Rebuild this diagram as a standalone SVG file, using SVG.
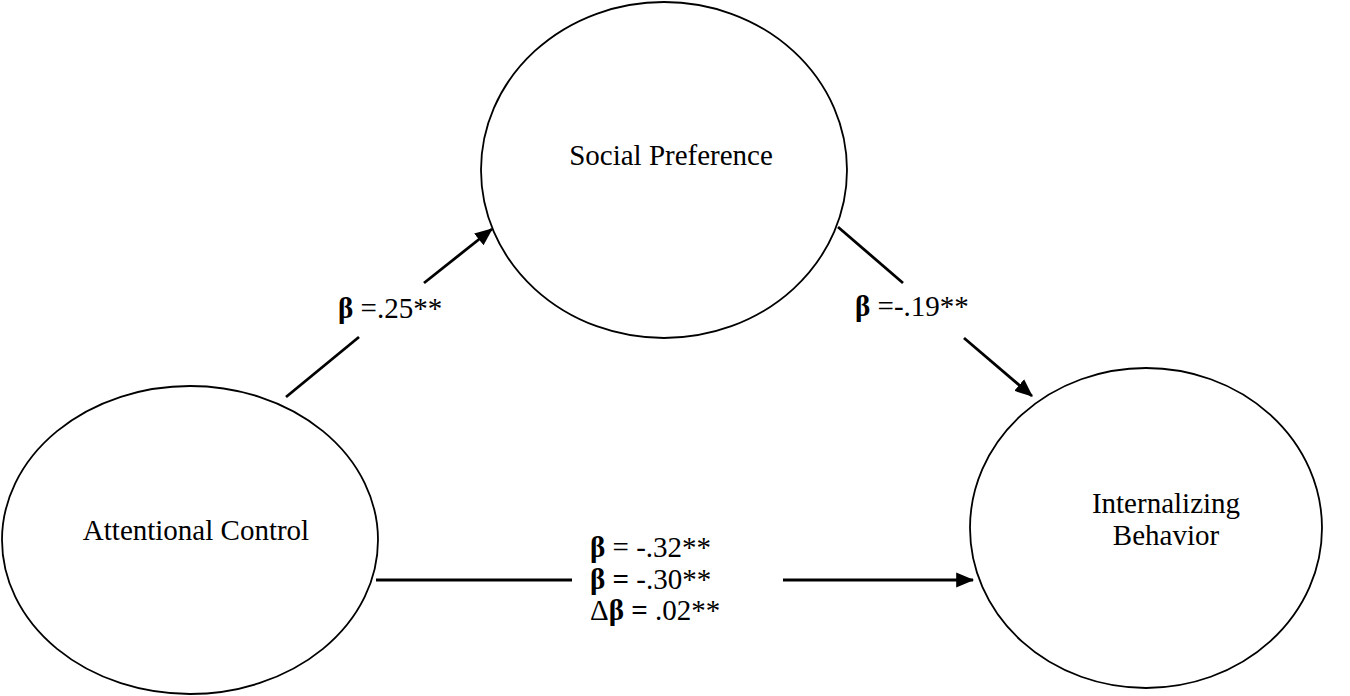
<svg xmlns="http://www.w3.org/2000/svg" width="1350" height="696" viewBox="0 0 1350 696">
<style>
.node{fill:#fff;stroke:#000;stroke-width:1.8}
.t{font-family:"Liberation Serif","Times New Roman",serif;font-size:29px;fill:#000}
.b{font-weight:bold}
.c{stroke:#000;stroke-width:2.8;fill:none}
</style>
<defs>
<marker id="ah" markerWidth="7" markerHeight="7" refX="6" refY="3.5" orient="auto" markerUnits="strokeWidth">
<path d="M0,0.8 L6.4,3.5 L0,6.2 Z" fill="#000"/>
</marker>
</defs>
<rect width="1350" height="696" fill="#fff"/>
<g id="social-preference">
<ellipse class="node" cx="664" cy="170" rx="183" ry="168"/>
<text class="t" x="671" y="165" text-anchor="middle">Social Preference</text>
</g>
<g id="attentional-control">
<ellipse class="node" cx="190" cy="540" rx="188" ry="154"/>
<text class="t" x="196" y="540" text-anchor="middle">Attentional Control</text>
</g>
<g id="internalizing-behavior">
<ellipse class="node" cx="1146" cy="528" rx="176" ry="160"/>
<text class="t" x="1166" y="513" text-anchor="middle">Internalizing</text>
<text class="t" x="1166" y="545" text-anchor="middle">Behavior</text>
</g>
<g id="connectors">
<line class="c" x1="286" y1="397" x2="359" y2="337"/>
<line class="c" x1="424" y1="283" x2="492" y2="229" marker-end="url(#ah)"/>
<line class="c" x1="838" y1="227" x2="903" y2="283"/>
<line class="c" x1="964" y1="338" x2="1032" y2="396" marker-end="url(#ah)"/>
<line class="c" x1="376" y1="580" x2="572" y2="580"/>
<line class="c" x1="783" y1="580" x2="973" y2="580" marker-end="url(#ah)"/>
</g>
<g id="labels">
<text class="t" x="338" y="318"><tspan class="b">β</tspan> =.25**</text>
<text class="t" x="855" y="316"><tspan class="b">β</tspan> =-.19**</text>
<text class="t" x="590" y="557"><tspan class="b">β</tspan> = -.32**</text>
<text class="t" x="590" y="589"><tspan class="b">β =</tspan> -.30**</text>
<text class="t" x="590" y="620">Δ<tspan class="b">β =</tspan> .02**</text>
</g>
</svg>
